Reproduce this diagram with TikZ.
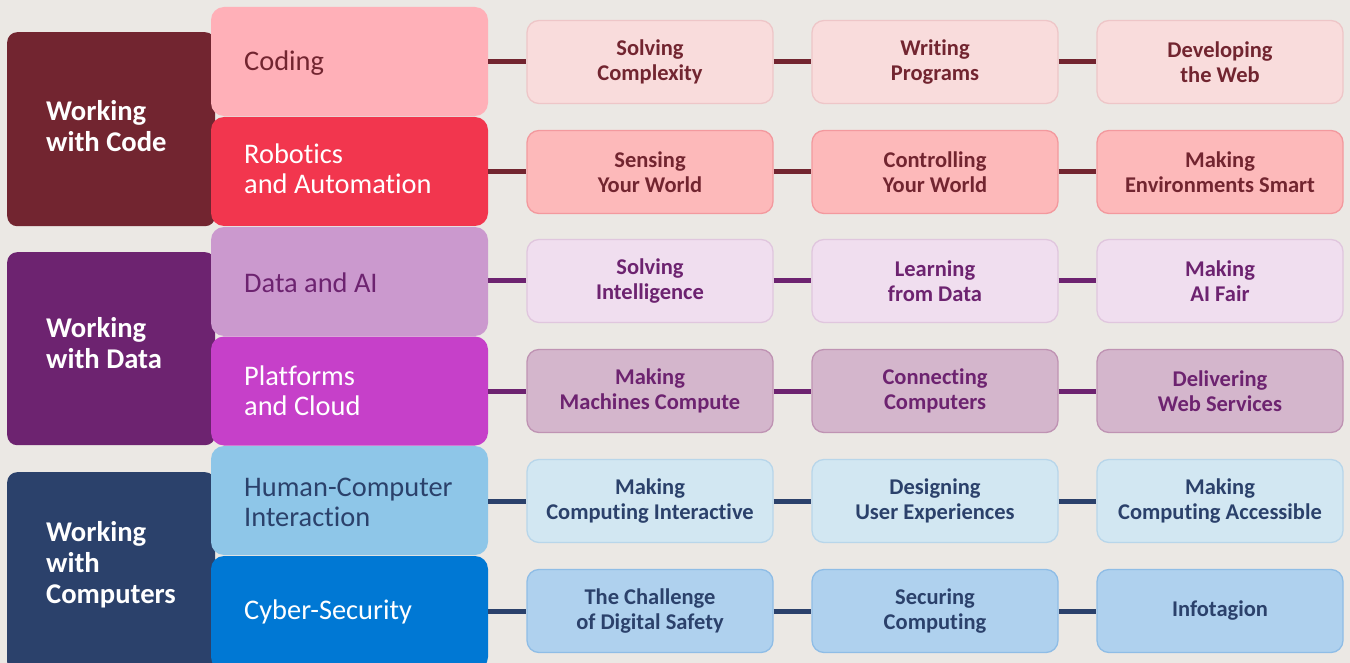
\documentclass[tikz,border=0pt]{standalone}
\usepackage{fontspec}
\setmainfont{Carlito}[Ligatures=NoCommon]
\definecolor{bg}{HTML}{EBE8E4}
\definecolor{codeD}{HTML}{722530}
\definecolor{codingF}{HTML}{FFB0B8}
\definecolor{roboF}{HTML}{F2364E}
\definecolor{rAfill}{HTML}{F9DCDC}\definecolor{rAdraw}{HTML}{EEC6C8}
\definecolor{rBfill}{HTML}{FDB9BA}\definecolor{rBdraw}{HTML}{F3999E}
\definecolor{dataD}{HTML}{6D2370}
\definecolor{daiF}{HTML}{CB99CE}
\definecolor{platF}{HTML}{C640C9}
\definecolor{rCfill}{HTML}{F0DEEF}\definecolor{rCdraw}{HTML}{E0C6DE}
\definecolor{rDfill}{HTML}{D4B6CC}\definecolor{rDdraw}{HTML}{BF93B3}
\definecolor{compD}{HTML}{2B416B}
\definecolor{hciF}{HTML}{8EC6E8}
\definecolor{cyberF}{HTML}{0078D4}
\definecolor{rEfill}{HTML}{D2E7F2}\definecolor{rEdraw}{HTML}{B8D6EA}
\definecolor{rFfill}{HTML}{AFD1EE}\definecolor{rFdraw}{HTML}{8FBDE6}
\tikzset{
  groupbox/.style={rounded corners=10pt, minimum width=208pt, inner sep=0pt, anchor=north west},
  catbox/.style={rounded corners=13pt, minimum width=277pt, minimum height=109pt, inner sep=0pt},
  grouptext/.style={anchor=west, align=left, text=white, inner sep=0pt, font=\fontsize{28.6}{31}\selectfont\bfseries},
  cattext/.style={anchor=west, align=left, inner sep=0pt, font=\fontsize{28.4}{30}\selectfont},
  rbox/.style={rounded corners=12pt, minimum width=246pt, minimum height=83pt, inner sep=0pt, line width=1.3pt, align=center, font=\fontsize{22.5}{25}\selectfont\bfseries},
  conn/.style={line width=5pt},
  row1/.style={rbox, fill=rAfill, draw=rAdraw, text=codeD},
  row2/.style={rbox, fill=rBfill, draw=rBdraw, text=codeD},
  row3/.style={rbox, fill=rCfill, draw=rCdraw, text=dataD},
  row4/.style={rbox, fill=rDfill, draw=rDdraw, text=dataD},
  row5/.style={rbox, fill=rEfill, draw=rEdraw, text=compD},
  row6/.style={rbox, fill=rFfill, draw=rFdraw, text=compD}
}
\begin{document}
\begin{tikzpicture}[x=1pt,y=-1pt]
\fill[bg] (0,0) rectangle (1350,663);
\useasboundingbox (0,0) rectangle (1350,663);
% group boxes
\node[groupbox, fill=codeD, minimum height=194pt] (gcode) at (7,32) {};
\node[groupbox, fill=dataD, minimum height=193pt] (gdata) at (7,252) {};
\node[groupbox, fill=compD, minimum height=200pt] (gcomp) at (7,472) {};
\node[grouptext] (gcodet) at (46,126) {Working\\with Code};
\node[grouptext] (gdatat) at (46,343) {Working\\with Data};
\node[grouptext] (gcompt) at (46,565) {Working\\with\\Computers};
% category boxes
\node[catbox, fill=codingF] (c1) at (349.5,61.5) {};
\node[catbox, fill=roboF] (c2) at (349.5,171.5) {};
\node[catbox, fill=daiF] (c3) at (349.5,281.5) {};
\node[catbox, fill=platF] (c4) at (349.5,391) {};
\node[catbox, fill=hciF] (c5) at (349.5,500.5) {};
\node[catbox, fill=cyberF, minimum height=114pt] (c6) at (349.5,613) {};
\node[cattext, text=codeD] (c1t) at (244,63) {Coding};
\node[cattext, text=white] (c2t) at (244,169) {Robotics\\and Automation};
\node[cattext, text=dataD] (c3t) at (244,283) {Data and AI};
\node[cattext, text=white] (c4t) at (244,391) {Platforms\\and Cloud};
\node[cattext, text=compD] (c5t) at (244,502) {Human-Computer\\Interaction};
\node[cattext, text=white] (c6t) at (244,611.5) {Cyber-Security};
% right boxes
\node[row1] (r11) at (650,62) {Solving\\Complexity};
\node[row1] (r12) at (935,62) {Writing\\Programs};
\node[row1] (r13) at (1220,62) {Developing\\the Web};
\node[row2] (r21) at (650,172) {Sensing\\Your World};
\node[row2] (r22) at (935,172) {Controlling\\Your World};
\node[row2] (r23) at (1220,172) {Making\\Environments Smart};
\node[row3] (r31) at (650,281) {Solving\\Intelligence};
\node[row3] (r32) at (935,281) {Learning\\from Data};
\node[row3] (r33) at (1220,281) {Making\\AI Fair};
\node[row4] (r41) at (650,391) {Making\\Machines Compute};
\node[row4] (r42) at (935,391) {Connecting\\Computers};
\node[row4] (r43) at (1220,391) {Delivering\\Web Services};
\node[row5] (r51) at (650,501) {Making\\Computing Interactive};
\node[row5] (r52) at (935,501) {Designing\\User Experiences};
\node[row5] (r53) at (1220,501) {Making\\Computing Accessible};
\node[row6] (r61) at (650,611) {The Challenge\\of Digital Safety};
\node[row6] (r62) at (935,611) {Securing\\Computing};
\node[row6] (r63) at (1220,611) {Infotagion};
% connectors
\foreach \r/\c in {1/codeD,2/codeD,3/dataD,4/dataD,5/compD,6/compD}{
  \draw[conn, \c] (c\r.east |- r\r1.west) -- (r\r1.west);
  \draw[conn, \c] (r\r1.east) -- (r\r2.west);
  \draw[conn, \c] (r\r2.east) -- (r\r3.west);
}
\end{tikzpicture}
\end{document}
